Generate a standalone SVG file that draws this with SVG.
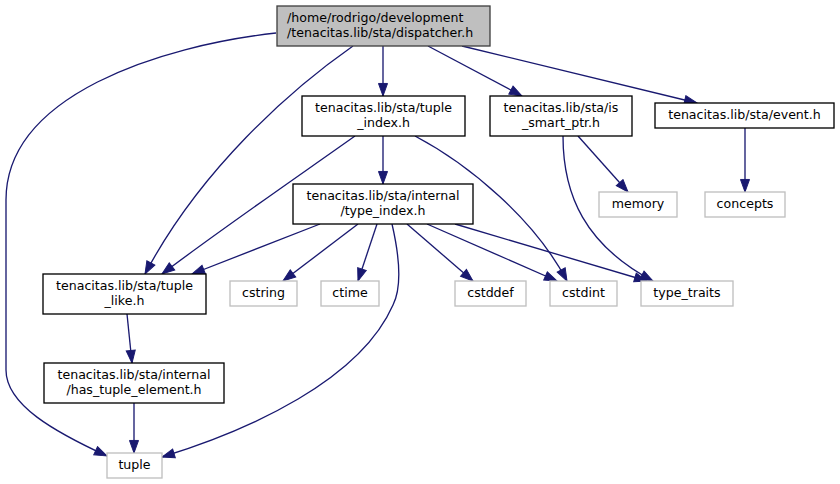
<svg xmlns="http://www.w3.org/2000/svg" width="840" height="484" viewBox="0 0 840 484">
<defs>
<style>
.n rect{fill:#fff;stroke:#000;stroke-width:1.33}
.root rect{fill:#bfbfbf;stroke:#404040;stroke-width:1.33}
.ext rect{fill:#fff;stroke:#bfbfbf;stroke-width:1.33}
text{font-family:"DejaVu Sans","Liberation Sans",sans-serif;font-size:12.6px;fill:#000;text-anchor:middle}
.root text{text-anchor:start}
.edges path{fill:none;stroke:#191970;stroke-width:1.33;marker-end:url(#ah)}
</style>
<marker id="ah" markerUnits="userSpaceOnUse" markerWidth="15" markerHeight="11" viewBox="-1 -1 15 11.4" refX="13" refY="4.7" orient="auto">
<path d="M0,0 L13,4.7 L0,9.4 z" fill="#191970" stroke="#191970" stroke-width="1"/>
</marker>
</defs>
<rect width="840" height="484" fill="#fff"/>
<g class="edges">
<path d="M276,33 C160,46 6,95 6,200 L6,370 C6,405 55,432 107,456"/>
<path d="M353,46 C290,90 200,170 145,274"/>
<path d="M383,46 L383,96"/>
<path d="M428,46 L522,96"/>
<path d="M462,46 L697,103"/>
<path d="M383,136 L383,184"/>
<path d="M355,136 C300,175 220,230 162,274"/>
<path d="M415,136 C470,165 535,220 567,281"/>
<path d="M578,136 L628,192"/>
<path d="M563,136 C563,195 585,245 653,281"/>
<path d="M745,128 L745,192"/>
<path d="M320,224 L192,274"/>
<path d="M358,224 L283,281"/>
<path d="M377,224 L358,281"/>
<path d="M392,224 C398,250 403,285 393,305 C360,380 250,430 162,457"/>
<path d="M407,224 L473,281"/>
<path d="M427,224 L557,281"/>
<path d="M455,224 L647,281"/>
<path d="M127,314 L132,363"/>
<path d="M134,403 L134,453"/>
</g>
<g id="dispatcher" class="root"><rect x="277" y="6" width="213" height="40"/><text x="287" y="22">/home/rodrigo/development</text><text x="287" y="37">/tenacitas.lib/sta/dispatcher.h</text></g>
<g id="tuple_index" class="n"><rect x="302" y="96" width="163" height="40"/><text x="383.5" y="112">tenacitas.lib/sta/tuple</text><text x="383.5" y="127">_index.h</text></g>
<g id="is_smart_ptr" class="n"><rect x="490" y="96" width="142" height="40"/><text x="561" y="112">tenacitas.lib/sta/is</text><text x="561" y="127">_smart_ptr.h</text></g>
<g id="event" class="n"><rect x="655" y="103" width="179" height="25"/><text x="744.5" y="119">tenacitas.lib/sta/event.h</text></g>
<g id="type_index" class="n"><rect x="293" y="184" width="180" height="40"/><text x="383" y="200">tenacitas.lib/sta/internal</text><text x="383" y="215">/type_index.h</text></g>
<g id="memory" class="ext"><rect x="599" y="192" width="78" height="25"/><text x="638" y="208">memory</text></g>
<g id="concepts" class="ext"><rect x="705" y="192" width="80" height="25"/><text x="745" y="208">concepts</text></g>
<g id="tuple_like" class="n"><rect x="43" y="274" width="163" height="40"/><text x="124.5" y="290">tenacitas.lib/sta/tuple</text><text x="124.5" y="305">_like.h</text></g>
<g id="cstring" class="ext"><rect x="230" y="281" width="67" height="25"/><text x="263.5" y="297">cstring</text></g>
<g id="ctime" class="ext"><rect x="321" y="281" width="58" height="25"/><text x="350" y="297">ctime</text></g>
<g id="cstddef" class="ext"><rect x="455" y="281" width="71" height="25"/><text x="490.5" y="297">cstddef</text></g>
<g id="cstdint" class="ext"><rect x="550" y="281" width="67" height="25"/><text x="583.5" y="297">cstdint</text></g>
<g id="type_traits" class="ext"><rect x="641" y="281" width="92" height="25"/><text x="687" y="297">type_traits</text></g>
<g id="has_tuple_element" class="n"><rect x="44" y="363" width="180" height="40"/><text x="134" y="379">tenacitas.lib/sta/internal</text><text x="134" y="394">/has_tuple_element.h</text></g>
<g id="tuple" class="ext"><rect x="107" y="453" width="55" height="25"/><text x="134.5" y="469">tuple</text></g>
</svg>
